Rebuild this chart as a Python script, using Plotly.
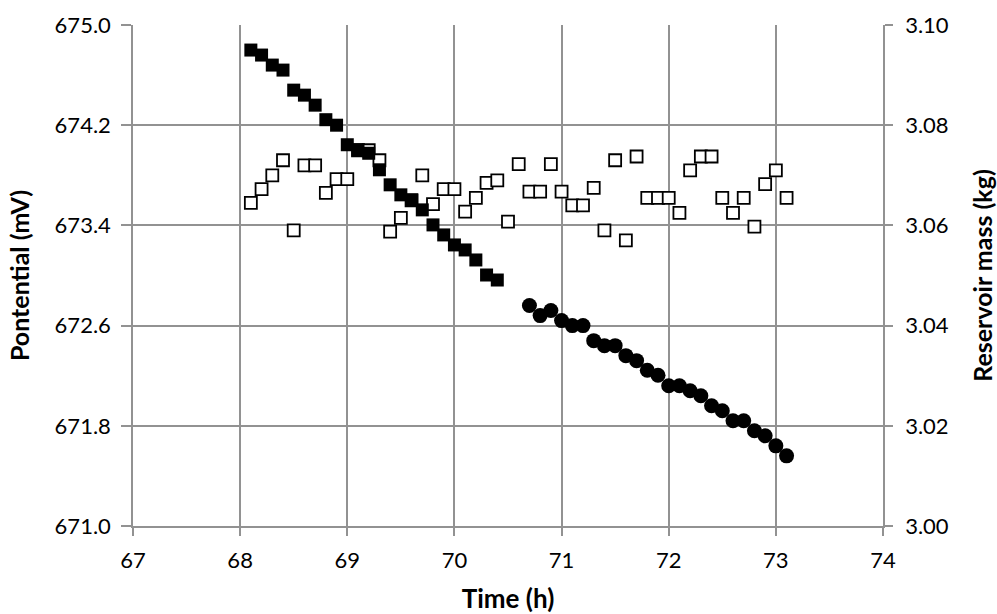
import plotly.graph_objects as go

# ---- data ----
time_open = [68.1, 68.2, 68.3, 68.4, 68.5, 68.6, 68.7, 68.8, 68.9, 69.0,
             69.1, 69.2, 69.3, 69.4, 69.5, 69.6, 69.7, 69.8, 69.9, 70.0,
             70.1, 70.2, 70.3, 70.4, 70.5, 70.6, 70.7, 70.8, 70.9, 71.0,
             71.1, 71.2, 71.3, 71.4, 71.5, 71.6, 71.7, 71.8, 71.9, 72.0,
             72.1, 72.2, 72.3, 72.4, 72.5, 72.6, 72.7, 72.8, 72.9, 73.0, 73.1]
potential = [673.58, 673.69, 673.80, 673.92, 673.36, 673.88, 673.88, 673.66, 673.77, 673.77,
             674.00, 674.00, 673.92, 673.35, 673.46, 673.60, 673.80, 673.57, 673.69, 673.69,
             673.51, 673.62, 673.74, 673.76, 673.43, 673.89, 673.67, 673.67, 673.89, 673.67,
             673.56, 673.56, 673.70, 673.36, 673.92, 673.28, 673.95, 673.62, 673.62, 673.62,
             673.50, 673.84, 673.95, 673.95, 673.62, 673.50, 673.62, 673.39, 673.73, 673.84, 673.62]

time_sq = [68.1, 68.2, 68.3, 68.4, 68.5, 68.6, 68.7, 68.8, 68.9, 69.0, 69.1, 69.2,
           69.3, 69.4, 69.5, 69.6, 69.7, 69.8, 69.9, 70.0, 70.1, 70.2, 70.3, 70.4]
mass_sq = [3.0950, 3.0940, 3.0920, 3.0910, 3.0870, 3.0860, 3.0840, 3.0811, 3.0800, 3.0761,
           3.0751, 3.0744, 3.0711, 3.0681, 3.0661, 3.0651, 3.0631, 3.0601, 3.0581, 3.0561,
           3.0551, 3.0531, 3.0501, 3.0491]

time_circ = [70.7, 70.8, 70.9, 71.0, 71.1, 71.2, 71.3, 71.4, 71.5, 71.6, 71.7, 71.8, 71.9,
             72.0, 72.1, 72.2, 72.3, 72.4, 72.5, 72.6, 72.7, 72.8, 72.9, 73.0, 73.1]
mass_circ = [3.0440, 3.0420, 3.0430, 3.0410, 3.0400, 3.0400, 3.0370, 3.0360, 3.0360, 3.0340,
             3.0330, 3.0311, 3.0301, 3.0280, 3.0280, 3.0270, 3.0260, 3.0240, 3.0230, 3.0210,
             3.0210, 3.0190, 3.0180, 3.0160, 3.0140]

GRID = "#929292"
FONT = "Lato"

fig = go.Figure()
fig.add_trace(go.Scatter(x=time_open, y=potential, mode="markers", yaxis="y",
                         marker=dict(symbol="square", size=12, color="white",
                                     line=dict(color="black", width=1.8)),
                         showlegend=False))
fig.add_trace(go.Scatter(x=time_sq, y=mass_sq, mode="markers", yaxis="y2",
                         marker=dict(symbol="square", size=13, color="black",
                                     line=dict(width=0)),
                         showlegend=False))
fig.add_trace(go.Scatter(x=time_circ, y=mass_circ, mode="markers", yaxis="y2",
                         marker=dict(symbol="circle", size=15, color="black",
                                     line=dict(width=0)),
                         showlegend=False))

fig.update_layout(
    width=997, height=614,
    margin=dict(l=133, r=114, t=25, b=87.5, autoexpand=False),
    paper_bgcolor="white", plot_bgcolor="white",
    font=dict(family=FONT, size=22, color="black"),
    xaxis=dict(range=[67, 74], tick0=67, dtick=1, showgrid=True, gridcolor=GRID,
               gridwidth=1.5, zeroline=False, showline=True, linecolor=GRID,
               linewidth=1.5, ticks="outside", ticklen=8, tickcolor=GRID,
               tickwidth=1.5, ticklabelstandoff=6,
               title=dict(text="<b>Time (h)</b>", font=dict(size=26), standoff=18),
               automargin=False),
    yaxis=dict(range=[671, 675], tick0=671, dtick=0.8, tickformat=".1f",
               showgrid=True, gridcolor=GRID, gridwidth=1.5, zeroline=False,
               showline=True, linecolor=GRID, linewidth=1.5, ticks="outside",
               ticklen=10, tickcolor=GRID, tickwidth=1.5, ticklabelstandoff=6,
               title=dict(text="<b>Pontential (mV)</b>", font=dict(size=25), standoff=18),
               automargin=False),
    yaxis2=dict(range=[3.00, 3.10], tick0=3.0, dtick=0.02, tickformat=".2f",
                overlaying="y", side="right", showgrid=False, zeroline=False,
                showline=True, linecolor=GRID, linewidth=1.5, ticks="outside",
                ticklen=8, tickcolor=GRID, tickwidth=1.5, ticklabelstandoff=8,
                title=dict(text="<b>Reservoir mass (kg)</b>", font=dict(size=25), standoff=28),
                automargin=False),
)

fig.write_html("out.html")
